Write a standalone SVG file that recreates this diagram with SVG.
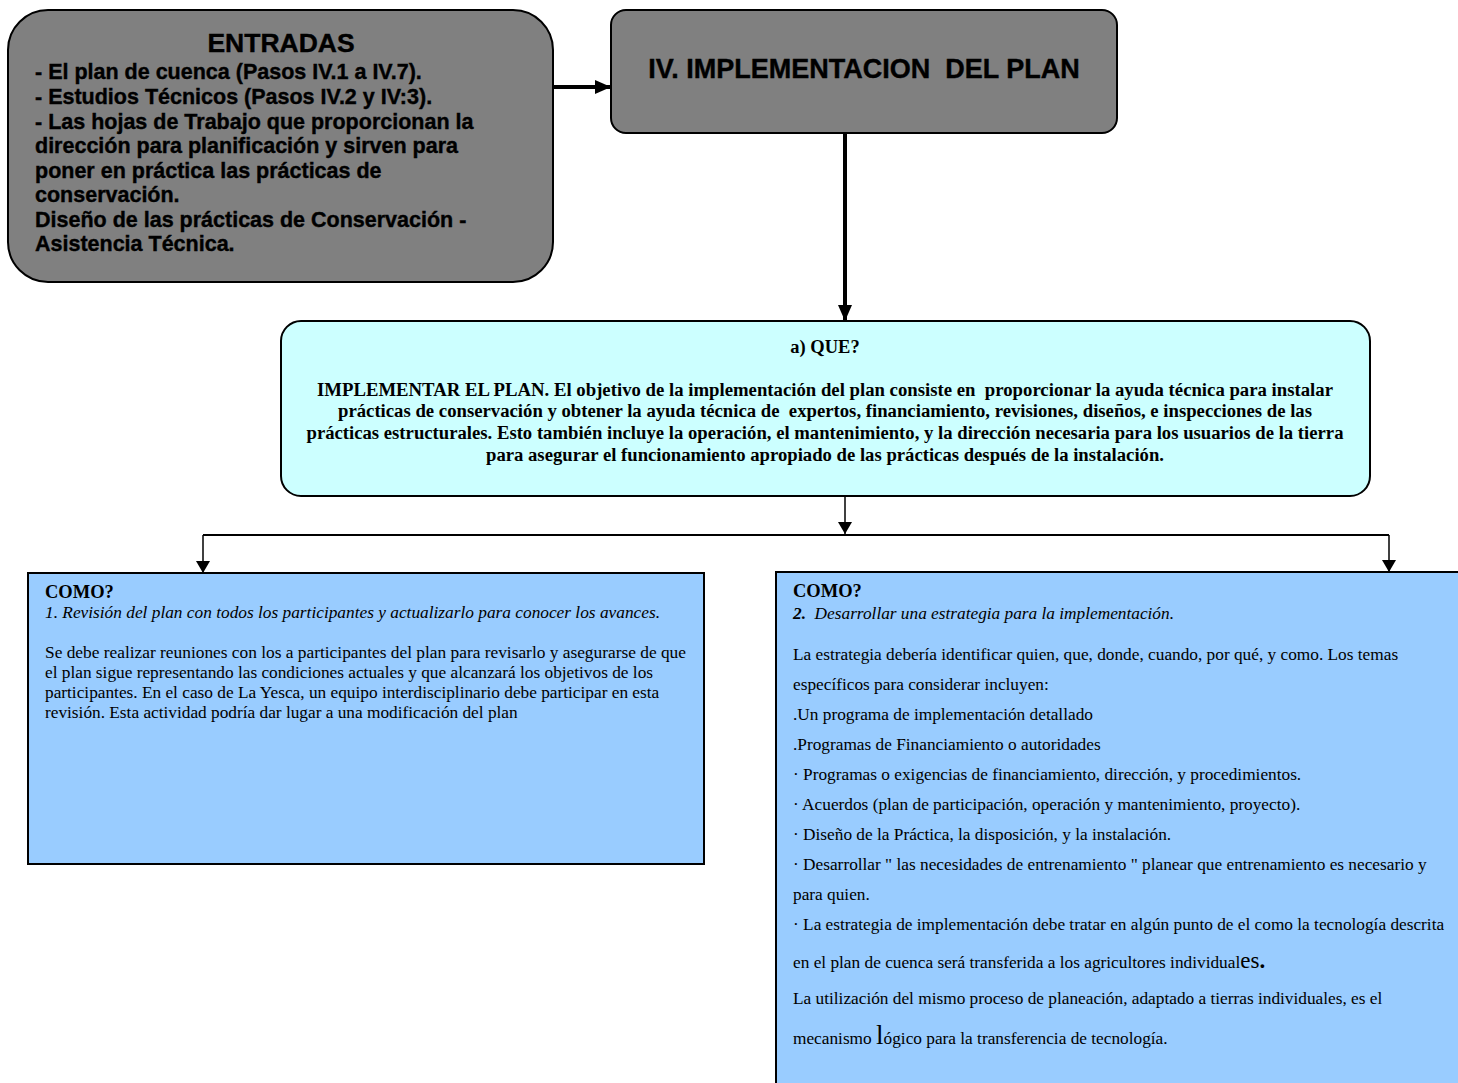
<svg xmlns="http://www.w3.org/2000/svg" width="1458" height="1083" viewBox="0 0 1458 1083">
<style>
.gray{fill:#808080;stroke:#000;stroke-width:2}
.cyan{fill:#ccffff;stroke:#000;stroke-width:2}
.blue{fill:#99ccff;stroke:#000;stroke-width:2}
.sb{font-family:"Liberation Sans",Arial,sans-serif;font-weight:bold;fill:#000;stroke:#000;stroke-width:0.4}
.t{font-family:"Liberation Serif","Times New Roman",serif;fill:#000;font-size:17.3px}
.tb{font-family:"Liberation Serif","Times New Roman",serif;fill:#000;font-weight:bold;font-size:18.5px}
.thick{stroke:#000;stroke-width:4;fill:none}
.thin{stroke:#000;stroke-width:1.5;fill:none}
</style>
<defs>
<marker id="big" viewBox="0 0 16 14" refX="16" refY="7" markerWidth="16" markerHeight="14" orient="auto" markerUnits="userSpaceOnUse"><path d="M0,0 L16,7 L0,14 z" fill="#000"/></marker>
<marker id="small" viewBox="0 0 12 14" refX="12" refY="7" markerWidth="12" markerHeight="14" orient="auto" markerUnits="userSpaceOnUse"><path d="M0,0 L12,7 L0,14 z" fill="#000"/></marker>
</defs>

<g id="connectors">
<line class="thick" x1="553" y1="87" x2="611" y2="87" marker-end="url(#big)"/>
<line class="thick" x1="845" y1="126" x2="845" y2="321" marker-end="url(#big)"/>
<line class="thin" x1="845" y1="496" x2="845" y2="534" marker-end="url(#small)"/>
<polyline class="thin" style="stroke-width:2" points="203,535 1389,535"/>
<line class="thin" x1="203" y1="535" x2="203" y2="573" marker-end="url(#small)"/>
<line class="thin" x1="1389" y1="535" x2="1389" y2="572" marker-end="url(#small)"/>
</g>

<g id="entradas">
<rect class="gray" x="8" y="10" width="545" height="272" rx="40"/>
<text class="sb" x="281" y="52" font-size="26.5" text-anchor="middle">ENTRADAS</text>
<g class="sb" font-size="21.5">
<text x="35" y="79">- El plan de cuenca (Pasos IV.1 a IV.7).</text>
<text x="35" y="104">- Estudios Técnicos (Pasos IV.2 y IV:3).</text>
<text x="35" y="129">- Las hojas de Trabajo que proporcionan la</text>
<text x="35" y="153">dirección para planificación y sirven para</text>
<text x="35" y="178">poner en práctica las prácticas de</text>
<text x="35" y="202">conservación.</text>
<text x="35" y="227">Diseño de las prácticas de Conservación -</text>
<text x="35" y="251">Asistencia Técnica.</text>
</g>
</g>

<g id="implementacion">
<rect class="gray" x="611" y="10" width="506" height="123" rx="15"/>
<text class="sb" x="864" y="78" font-size="27" text-anchor="middle" xml:space="preserve">IV. IMPLEMENTACION  DEL PLAN</text>
</g>

<g id="que">
<rect class="cyan" x="281" y="321" width="1089" height="175" rx="20"/>
<g class="tb" text-anchor="middle">
<text x="825" y="353">a) QUE?</text>
<text x="825" y="396" xml:space="preserve" textLength="1016" lengthAdjust="spacingAndGlyphs">IMPLEMENTAR EL PLAN. El objetivo de la implementación del plan consiste en  proporcionar la ayuda técnica para instalar</text>
<text x="825" y="417" xml:space="preserve" textLength="974" lengthAdjust="spacingAndGlyphs">prácticas de conservación y obtener la ayuda técnica de  expertos, financiamiento, revisiones, diseños, e inspecciones de las</text>
<text x="825" y="439" textLength="1037" lengthAdjust="spacingAndGlyphs">prácticas estructurales. Esto también incluye la operación, el mantenimiento, y la dirección necesaria para los usuarios de la tierra</text>
<text x="825" y="461" textLength="678" lengthAdjust="spacingAndGlyphs">para asegurar el funcionamiento apropiado de las prácticas después de la instalación.</text>
</g>
</g>

<g id="como1">
<rect class="blue" x="28" y="573" width="676" height="291"/>
<text class="tb" x="45" y="598" font-size="17.3">COMO?</text>
<text class="t" x="45" y="618" font-style="italic" textLength="615" lengthAdjust="spacingAndGlyphs">1. Revisión del plan con todos los participantes y actualizarlo para conocer los avances.</text>
<g class="t">
<text x="45" y="658" textLength="641" lengthAdjust="spacingAndGlyphs">Se debe realizar reuniones con los a participantes del plan para revisarlo y asegurarse de que</text>
<text x="45" y="678">el plan sigue representando las condiciones actuales y que alcanzará los objetivos de los</text>
<text x="45" y="698">participantes. En el caso de La Yesca, un equipo interdisciplinario debe participar en esta</text>
<text x="45" y="718">revisión. Esta actividad podría dar lugar a una modificación del plan</text>
</g>
</g>

<g id="como2">
<rect class="blue" x="776" y="572" width="690" height="520"/>
<text class="tb" x="793" y="597" font-size="17.3">COMO?</text>
<text class="t" x="793" y="619" font-style="italic" xml:space="preserve"><tspan font-weight="bold">2.</tspan>  Desarrollar una estrategia para la implementación.</text>
<g class="t" xml:space="preserve">
<text x="793" y="660"> La estrategia debería identificar quien, que, donde, cuando, por qué, y como. Los temas</text>
<text x="793" y="690">específicos para considerar incluyen:</text>
<text x="793" y="720">.Un programa de implementación detallado</text>
<text x="793" y="750">.Programas de Financiamiento o autoridades</text>
<text x="793" y="780">· Programas o exigencias de financiamiento, dirección, y procedimientos.</text>
<text x="793" y="810">· Acuerdos (plan de  participación, operación  y mantenimiento, proyecto).</text>
<text x="793" y="840">· Diseño de la Práctica, la disposición, y la instalación.</text>
<text x="793" y="870">· Desarrollar " las necesidades de entrenamiento " planear que entrenamiento es necesario y</text>
<text x="793" y="900">para quien.</text>
<text x="793" y="930">· La estrategia de implementación debe tratar en algún punto de el como la tecnología descrita</text>
<text x="793" y="968">en el plan de cuenca será transferida a los agricultores individual<tspan font-size="23">es</tspan><tspan font-size="23" font-weight="bold">.</tspan></text>
<text x="793" y="1004">La utilización del mismo proceso de planeación, adaptado a tierras individuales, es el</text>
<text x="793" y="1044">mecanismo <tspan font-size="27">l</tspan>ógico para la transferencia de tecnología.</text>
</g>
</g>
</svg>
